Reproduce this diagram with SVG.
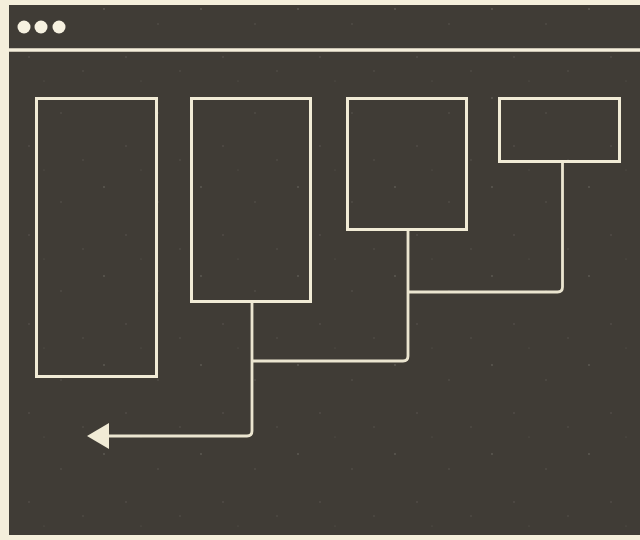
<svg xmlns="http://www.w3.org/2000/svg" width="640" height="540" viewBox="0 0 640 540">
<style>
.box{fill:none;stroke:#f1ebd6;stroke-width:3}
.conn{fill:none;stroke:#ebe5d0;stroke-width:2.8;stroke-linejoin:round}
.dot{fill:#f6f1e0}
</style>
<defs>
<marker id="arrow" viewBox="0 0 22 26" refX="2" refY="13" markerWidth="22" markerHeight="26" markerUnits="userSpaceOnUse" orient="auto">
<path d="M0,0 L22,13 L0,26 Z" fill="#f1ebd6"/>
</marker>
<pattern id="speck" width="97" height="89" patternUnits="userSpaceOnUse">
<circle cx="7" cy="9" r="0.9" fill="#5e5a53"/>
<circle cx="61" cy="24" r="0.8" fill="#58544e"/>
<circle cx="29" cy="57" r="0.7" fill="#5f5b54"/>
<circle cx="83" cy="71" r="0.8" fill="#56524c"/>
<circle cx="44" cy="81" r="0.6" fill="#5a564f"/>
</pattern>
</defs>
<rect x="0" y="0" width="640" height="540" fill="#f4eedb"/>
<rect x="9" y="5" width="631" height="530" fill="#403c36"/>
<rect x="9" y="5" width="631" height="530" fill="url(#speck)"/>
<g id="titlebar">
<line x1="9" y1="50" x2="640" y2="50" stroke="#f4eedb" stroke-width="3.5"/>
<circle class="dot" cx="24" cy="27" r="6.5"/>
<circle class="dot" cx="41" cy="27" r="6.5"/>
<circle class="dot" cx="59" cy="27" r="6.5"/>
</g>
<g id="box1"><rect class="box" x="36.5" y="98.5" width="120" height="278"/></g>
<g id="box2"><rect class="box" x="191.5" y="98.5" width="119" height="203"/></g>
<g id="box3"><rect class="box" x="347.5" y="98.5" width="119" height="131"/></g>
<g id="box4"><rect class="box" x="499.5" y="98.5" width="120" height="63"/></g>
<g id="connectors">
<path class="conn" d="M562.5,163 V287 Q562.5,292 557.5,292 H408"/>
<path class="conn" d="M408,231 V356 Q408,361 403,361 H252"/>
<path class="conn" d="M252,303 V431 Q252,436 247,436 H107" marker-end="url(#arrow)"/>
</g>
</svg>
